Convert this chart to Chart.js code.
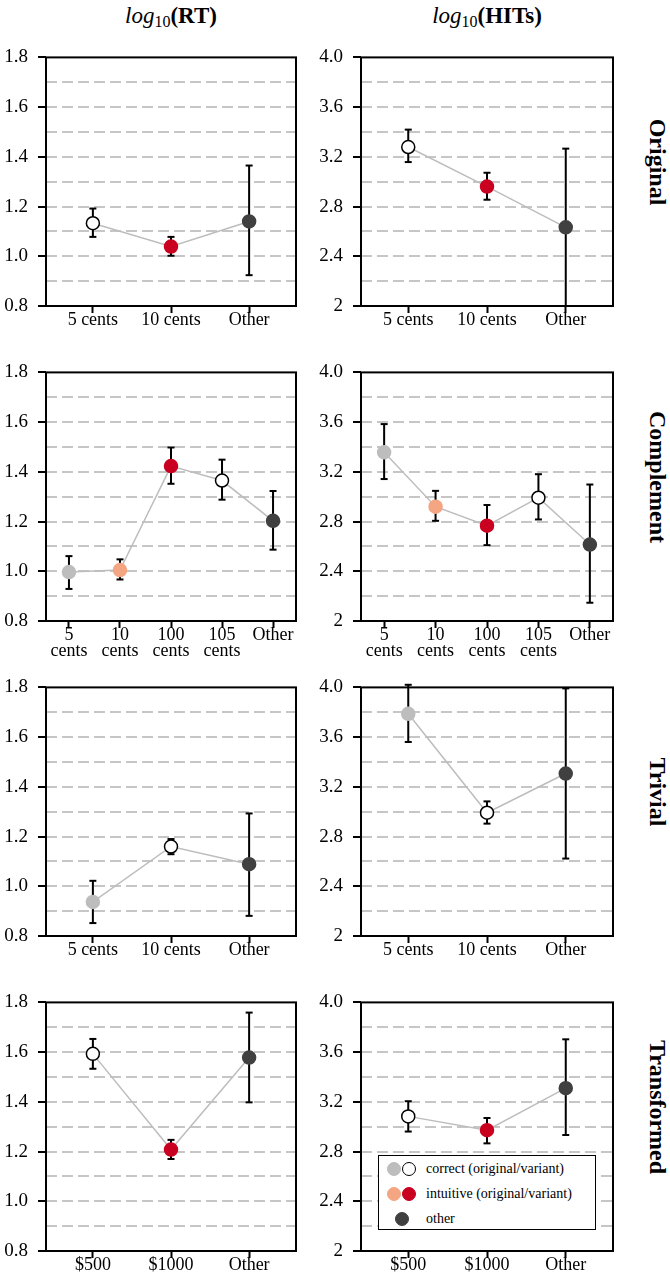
<!DOCTYPE html>
<html lang="en">
<head>
<meta charset="UTF-8">
<title>log10 RT and HITs by answer</title>
<script src="https://cdn.jsdelivr.net/npm/chart.js"></script>
<style>
  body {
    margin: 0;
    width: 670px;
    height: 1276px;
    overflow: hidden;
    position: relative;
    background: #fff;
    color: #000;
    font-family: 'Liberation Serif', 'Times New Roman', serif;
  }
  .panel { position: absolute; }
  .col-title {
    position: absolute;
    top: 0;
    line-height: 32px;
    font-size: 23px;
    white-space: nowrap;
    transform: translateX(-50%);
  }
  .col-title sub { font-size: 16px; vertical-align: -4px; line-height: 0; }
  .row-label {
    position: absolute;
    left: 657px;
    font-size: 24px;
    font-weight: bold;
    white-space: nowrap;
    transform: translate(-50%, -50%) rotate(90deg);
  }
  .legend {
    position: absolute;
    left: 378px;
    top: 1155px;
    width: 216px;
    height: 73px;
    border: 1.5px solid #000;
    background: #fff;
    font-size: 14px;
  }
  .legend .row { position: absolute; left: 0; right: 0; height: 18px; line-height: 18px; }
  .legend .dot { position: absolute; top: 2px; width: 14px; height: 14px; border-radius: 50%; box-sizing: border-box; }
  .legend .txt { position: absolute; left: 47px; top: 0; }
</style>
</head>
<body>
  <div class="col-title" style="left:171px"><i>log</i><sub>10</sub><b>(RT)</b></div>
  <div class="col-title" style="left:487px"><i>log</i><sub>10</sub><b>(HITs)</b></div>

  <div class="panel" style="left:0;top:36px;width:310px;height:310px"><canvas id="rtOriginal"></canvas></div>
  <div class="panel" style="left:318px;top:36px;width:312px;height:310px"><canvas id="hitsOriginal"></canvas></div>
  <div class="panel" style="left:0;top:351px;width:310px;height:310px"><canvas id="rtComplement"></canvas></div>
  <div class="panel" style="left:318px;top:351px;width:312px;height:310px"><canvas id="hitsComplement"></canvas></div>
  <div class="panel" style="left:0;top:666px;width:310px;height:310px"><canvas id="rtTrivial"></canvas></div>
  <div class="panel" style="left:318px;top:666px;width:312px;height:310px"><canvas id="hitsTrivial"></canvas></div>
  <div class="panel" style="left:0;top:981px;width:310px;height:310px"><canvas id="rtTransformed"></canvas></div>
  <div class="panel" style="left:318px;top:981px;width:312px;height:310px"><canvas id="hitsTransformed"></canvas></div>

  <div class="row-label" style="top:162px">Original</div>
  <div class="row-label" style="top:477px">Complement</div>
  <div class="row-label" style="top:792px">Trivial</div>
  <div class="row-label" style="top:1107px">Transformed</div>

  <div class="legend" id="legend"></div>

<script>
// categories per problem
const originalCats = ['5 cents', '10 cents', 'Other'];
const complementCats = [['5', 'cents'], ['10', 'cents'], ['100', 'cents'], ['105', 'cents'], 'Other'];
const trivialCats = ['5 cents', '10 cents', 'Other'];
const transformedCats = ['$500', '$1000', 'Other'];

// answer type of each category
const originalKinds = ['correctVariant', 'intuitiveVariant', 'other'];
const complementKinds = ['correctOriginal', 'intuitiveOriginal', 'intuitiveVariant', 'correctVariant', 'other'];
const trivialKinds = ['correctOriginal', 'correctVariant', 'other'];
const transformedKinds = ['correctVariant', 'intuitiveVariant', 'other'];

// log10(RT): mean, lower and upper error
const rtOriginalMean = [1.133, 1.039, 1.140];
const rtOriginalLow = [1.078, 1.002, 0.924];
const rtOriginalHigh = [1.192, 1.078, 1.365];
const rtComplementMean = [0.997, 1.005, 1.423, 1.365, 1.203];
const rtComplementLow = [0.929, 0.967, 1.352, 1.288, 1.087];
const rtComplementHigh = [1.061, 1.048, 1.498, 1.449, 1.323];
const rtTrivialMean = [0.937, 1.160, 1.089];
const rtTrivialLow = [0.852, 1.129, 0.881];
const rtTrivialHigh = [1.022, 1.190, 1.293];
const rtTransformedMean = [1.593, 1.208, 1.578];
const rtTransformedLow = [1.533, 1.170, 1.398];
const rtTransformedHigh = [1.653, 1.247, 1.759];

// log10(HITs): mean, lower and upper error
const hitsOriginalMean = [3.279, 2.961, 2.633];
const hitsOriginalLow = [3.158, 2.855, 2.0];
const hitsOriginalHigh = [3.419, 3.072, 3.266];
const hitsComplementMean = [3.357, 2.920, 2.767, 2.992, 2.615];
const hitsComplementLow = [3.142, 2.806, 2.610, 2.817, 2.147];
const hitsComplementHigh = [3.584, 3.047, 2.933, 3.181, 3.098];
const hitsTrivialMean = [3.788, 2.992, 3.307];
const hitsTrivialLow = [3.561, 2.904, 2.623];
const hitsTrivialHigh = [4.021, 3.083, 3.992];
const hitsTransformedMean = [3.083, 2.972, 3.310];
const hitsTransformedLow = [2.961, 2.866, 2.933];
const hitsTransformedHigh = [3.205, 3.070, 3.703];

// y axis ticks
const rtTickValues = [0.8, 0.9, 1.0, 1.1, 1.2, 1.3, 1.4, 1.5, 1.6, 1.7, 1.8];
const rtTickLabels = ['0.8', '', '1.0', '', '1.2', '', '1.4', '', '1.6', '', '1.8'];
const hitsTickValues = [2.0, 2.2, 2.4, 2.6, 2.8, 3.0, 3.2, 3.4, 3.6, 3.8, 4.0];
const hitsTickLabels = ['2', '', '2.4', '', '2.8', '', '3.2', '', '3.6', '', '4.0'];

const legendKinds = [['correctOriginal', 'correctVariant'], ['intuitiveOriginal', 'intuitiveVariant'], ['other']];
const legendLabels = ['correct (original/variant)', 'intuitive (original/variant)', 'other'];

const palette = {
    correctOriginal: { fill: '#bdbdbd', stroke: '#bdbdbd' },
    correctVariant: { fill: '#ffffff', stroke: '#000000' },
    intuitiveOriginal: { fill: '#f4a582', stroke: '#f4a582' },
    intuitiveVariant: { fill: '#ca0020', stroke: '#ca0020' },
    other: { fill: '#404040', stroke: '#404040' }
};

Chart.defaults.font.family = "'Liberation Serif', 'Times New Roman', serif";
Chart.defaults.color = '#000';

// box around each plot area
const framePlugin = {
    id: 'frame',
    beforeDatasetsDraw(chart) {
        const { ctx, chartArea: a } = chart;
        ctx.save();
        ctx.strokeStyle = '#000';
        ctx.lineWidth = 2;
        ctx.strokeRect(a.left, a.top, a.right - a.left, a.bottom - a.top);
        ctx.restore();
    }
};

function makePanel(id, cats, kinds, mean, low, high, isRT, rightCol) {
    const n = cats.length;
    const pad = n === 5 ? 0.45 : 0.6;
    const tickValues = isRT ? rtTickValues : hitsTickValues;
    const tickLabels = isRT ? rtTickLabels : hitsTickLabels;

    const errData = [];
    mean.forEach((m, i) => {
        errData.push({ x: i, y: low[i] }, { x: i, y: high[i] }, { x: i, y: null });
    });

    new Chart(document.getElementById(id), {
        type: 'line',
        data: {
            datasets: [
                {
                    data: mean.map((m, i) => ({ x: i, y: m })),
                    borderColor: '#bdbdbd',
                    borderWidth: 1.5,
                    pointRadius: 6.5,
                    pointBackgroundColor: kinds.map(k => palette[k].fill),
                    pointBorderColor: kinds.map(k => palette[k].stroke),
                    pointBorderWidth: 1.5,
                    clip: false,
                    order: 1
                },
                {
                    data: errData,
                    borderColor: '#000',
                    borderWidth: 2,
                    pointStyle: 'line',
                    pointRadius: 3.5,
                    pointBorderColor: '#000',
                    pointBorderWidth: 2,
                    spanGaps: false,
                    clip: false,
                    order: 2
                }
            ]
        },
        options: {
            responsive: true,
            maintainAspectRatio: false,
            animation: false,
            events: [],
            layout: { padding: { top: 12, right: rightCol ? 17 : 14, bottom: 0, left: 0 } },
            plugins: { legend: { display: false }, tooltip: { enabled: false } },
            scales: {
                x: {
                    type: 'linear',
                    min: -pad,
                    max: n - 1 + pad,
                    afterBuildTicks: s => { s.ticks = cats.map((c, i) => ({ value: i })); },
                    afterFit: s => { s.height = 40; },
                    ticks: {
                        callback: (v, i) => cats[i],
                        font: { size: 18, lineHeight: 0.85 },
                        color: '#000',
                        padding: 0,
                        maxRotation: 0,
                        autoSkip: false
                    },
                    grid: { drawOnChartArea: false, drawTicks: true, tickLength: 7, tickColor: '#000', tickWidth: 2 },
                    border: { display: false }
                },
                y: {
                    min: tickValues[0],
                    max: tickValues[tickValues.length - 1],
                    afterBuildTicks: s => { s.ticks = tickValues.map(v => ({ value: v })); },
                    afterFit: s => { s.width = rightCol ? 43 : 46; },
                    ticks: {
                        callback: (v, i) => tickLabels[i],
                        font: { size: 19 },
                        color: '#000',
                        padding: 10,
                        autoSkip: false
                    },
                    grid: {
                        color: c => (c.index === 0 || c.index === tickValues.length - 1) ? 'rgba(0,0,0,0)' : '#c6c6c6',
                        lineWidth: 2,
                        borderDash: [11, 5],
                        tickLength: 8,
                        tickWidth: 2,
                        tickBorderDash: [],
                        tickColor: c => c.index % 2 === 0 ? '#000' : 'rgba(0,0,0,0)'
                    },
                    border: { display: false, dash: [11, 5] }
                }
            }
        },
        plugins: [framePlugin]
    });
}

makePanel('rtOriginal', originalCats, originalKinds, rtOriginalMean, rtOriginalLow, rtOriginalHigh, true, false);
makePanel('hitsOriginal', originalCats, originalKinds, hitsOriginalMean, hitsOriginalLow, hitsOriginalHigh, false, true);
makePanel('rtComplement', complementCats, complementKinds, rtComplementMean, rtComplementLow, rtComplementHigh, true, false);
makePanel('hitsComplement', complementCats, complementKinds, hitsComplementMean, hitsComplementLow, hitsComplementHigh, false, true);
makePanel('rtTrivial', trivialCats, trivialKinds, rtTrivialMean, rtTrivialLow, rtTrivialHigh, true, false);
makePanel('hitsTrivial', trivialCats, trivialKinds, hitsTrivialMean, hitsTrivialLow, hitsTrivialHigh, false, true);
makePanel('rtTransformed', transformedCats, transformedKinds, rtTransformedMean, rtTransformedLow, rtTransformedHigh, true, false);
makePanel('hitsTransformed', transformedCats, transformedKinds, hitsTransformedMean, hitsTransformedLow, hitsTransformedHigh, false, true);

// legend in the bottom right panel
const legend = document.getElementById('legend');
legendLabels.forEach((label, r) => {
    const row = document.createElement('div');
    row.className = 'row';
    row.style.top = (4 + r * 25) + 'px';
    const ks = legendKinds[r];
    ks.forEach((k, j) => {
        const dot = document.createElement('span');
        dot.className = 'dot';
        dot.style.left = (ks.length === 1 ? 15.5 : 8 + j * 15) + 'px';
        dot.style.background = palette[k].fill;
        dot.style.border = '1.5px solid ' + palette[k].stroke;
        row.appendChild(dot);
    });
    const txt = document.createElement('span');
    txt.className = 'txt';
    txt.textContent = label;
    row.appendChild(txt);
    legend.appendChild(row);
});
</script>
</body>
</html>
